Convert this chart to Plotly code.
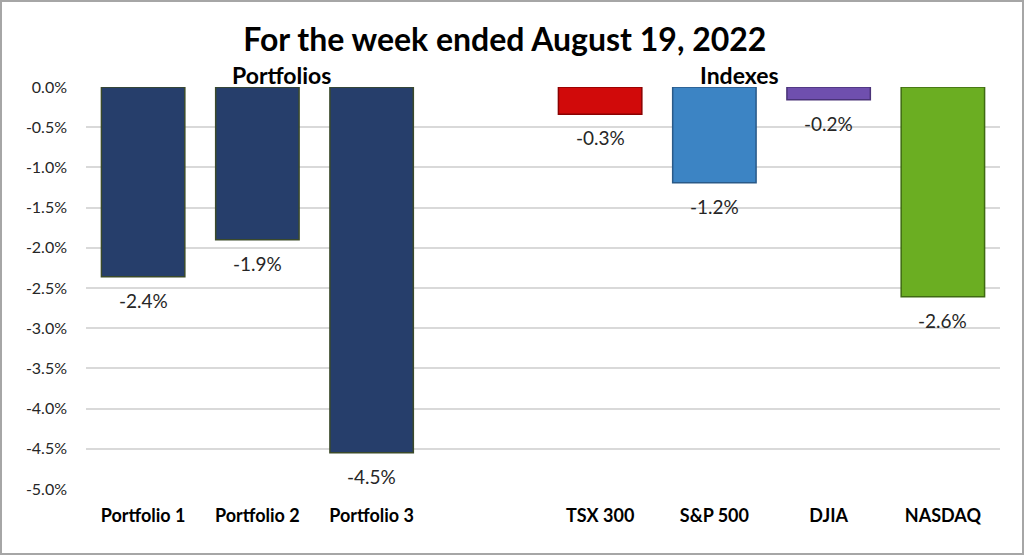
import plotly.graph_objects as go

categories = ["Portfolio 1", "Portfolio 2", "Portfolio 3", " ", "TSX 300", "S&P 500", "DJIA", "NASDAQ"]
returns = [-2.36, -1.90, -4.55, None, -0.34, -1.19, -0.16, -2.61]
labels = ["-2.4%", "-1.9%", "-4.5%", "", "-0.3%", "-1.2%", "-0.2%", "-2.6%"]
bar_colors = ["#263E6B", "#263E6B", "#263E6B", "#FFFFFF", "#D10A0A", "#3C84C4", "#6F4FAE", "#6BAE22"]
edge_colors = ["#3B4A2A", "#3B4A2A", "#3B4A2A", "#FFFFFF", "#8A0000", "#2A5A88", "#4A3378", "#3F6A12"]
tick_vals = [0, -0.5, -1.0, -1.5, -2.0, -2.5, -3.0, -3.5, -4.0, -4.5, -5.0]
tick_text = ["%.1f%%" % v if v != 0 else "0.0%" for v in tick_vals]

fig = go.Figure()
fig.add_trace(go.Bar(
    x=categories,
    y=returns,
    width=0.73,
    marker=dict(color=bar_colors, line=dict(color=edge_colors, width=1.5)),
    hoverinfo="skip",
))

# data labels under each bar
notes = []
for cat, val, lab in zip(categories, returns, labels):
    if val is None:
        continue
    notes.append(dict(text=lab, x=cat, y=val, xref="x", yref="y",
                      yanchor="top", yshift=-10, showarrow=False,
                      font=dict(family="Lato", size=19, color="#262626")))

notes += [
    dict(text="<b>Portfolios</b>", x=1.21, y=0, xref="x", yref="y",
         yanchor="bottom", yshift=-4, showarrow=False,
         font=dict(family="Lato", size=23, color="black")),
    dict(text="<b>Indexes</b>", x=5.22, y=0, xref="x", yref="y",
         yanchor="bottom", yshift=-4, showarrow=False,
         font=dict(family="Lato", size=23, color="black")),
]

fig.update_layout(
    width=1024, height=555,
    margin=dict(l=86, r=24, t=87, b=66),
    paper_bgcolor="white",
    plot_bgcolor="white",
    showlegend=False,
    font=dict(family="Lato", color="#262626"),
    title=dict(text="<b>For the week ended August 19, 2022</b>",
               x=0.493, xanchor="center", y=0.929, yanchor="middle",
               font=dict(family="Lato", size=32, color="black")),
    xaxis=dict(showgrid=False, showline=False, ticks="",
               tickfont=dict(family="Lato", size=18, color="black", weight="bold"),
               ticklabelstandoff=14),
    yaxis=dict(range=[-5.0, 0], tickvals=tick_vals, ticktext=tick_text,
               showgrid=True, gridcolor="#D9D9D9", gridwidth=1.5,
               zeroline=False, showline=False, ticks="",
               ticklabelstandoff=18,
               tickfont=dict(family="Lato", size=16, color="#262626")),
    annotations=notes,
    shapes=[dict(type="rect", xref="paper", yref="paper",
                 x0=-85 / 914, x1=1 + 23 / 914, y0=-65 / 402, y1=1 + 86 / 402,
                 line=dict(color="#A6A6A6", width=2))],
)

fig.write_html("out.html", config={"displayModeBar": False},
               post_script="document.body.style.margin='0px';")
